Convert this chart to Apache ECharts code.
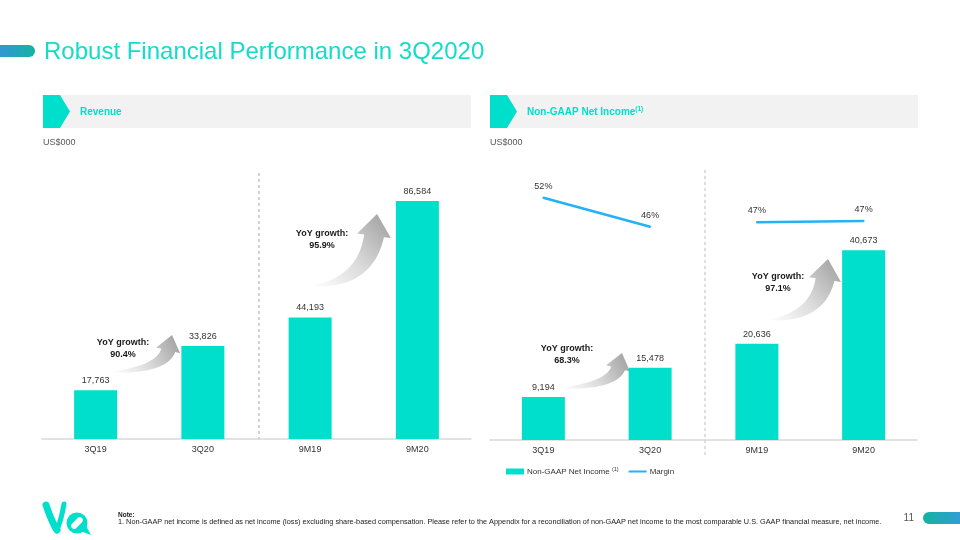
<!DOCTYPE html>
<html><head><meta charset="utf-8">
<script src="https://cdn.jsdelivr.net/npm/echarts@6/dist/echarts.min.js"></script>
<style>html,body{margin:0;padding:0;background:#fff}#c{width:960px;height:540px}</style>
</head><body><div id="c"></div>
<script>
// ---- data ----
const categories = ['3Q19', '3Q20', '9M19', '9M20'];
const revenue = [17763, 33826, 44193, 86584];
const netIncome = [9194, 15478, 20636, 40673];
const marginQuarter = [51.8, 45.8, '-', '-'];
const marginNineMonth = ['-', '-', 46.7, 47.0];
const revenueGrowth = ['90.4%', '95.9%'];
const incomeGrowth = ['68.3%', '97.1%'];

const TEAL = '#00dfcc';
const BLUE = '#22b2f5';
const FONT = 'Liberation Sans, Arial, sans-serif';

function quad(p0, c, p1, n) {
  const pts = [];
  for (let i = 0; i <= n; i++) {
    const t = i / n, u = 1 - t;
    pts.push([u * u * p0[0] + 2 * u * t * c[0] + t * t * p1[0], u * u * p0[1] + 2 * u * t * c[1] + t * t * p1[1]]);
  }
  return pts;
}
function arrowPoints(x0, y0, x1, y1, s) {
  const Lh = 22 * s, hw = 17 * s, bw = 10 * s;
  const C = [x0 + 0.85 * (x1 - x0), y0];
  let dx = x1 - C[0], dy = y1 - C[1];
  const len = Math.hypot(dx, dy); dx /= len; dy /= len;
  const B = [x1 - dx * Lh, y1 - dy * Lh];
  const n = [dy, -dx];
  const inner = [B[0] + n[0] * bw, B[1] + n[1] * bw];
  const outer = [B[0] - n[0] * bw, B[1] - n[1] * bw];
  const hIn = [B[0] + n[0] * hw, B[1] + n[1] * hw];
  const hOut = [B[0] - n[0] * hw, B[1] - n[1] * hw];
  const cin = [C[0] - bw * 0.9, C[1] - bw * 0.9];
  const cout = [C[0] + bw * 0.5, C[1] + bw * 0.3];
  const upper = quad([x0, y0 - 0.5], cin, inner, 24);
  const lower = quad(outer, cout, [x0, y0 + 0.5], 24);
  return upper.concat([hIn, [x1, y1], hOut], lower);
}
function arrow(x0, y0, x1, y1, s) {
  return {
    type: 'polygon', silent: true,
    shape: { points: arrowPoints(x0, y0, x1, y1, s) },
    style: {
      fill: new echarts.graphic.LinearGradient(0, 1, 1, 0, [
        { offset: 0, color: '#ffffff' }, { offset: 0.45, color: '#dcdcdc' }, { offset: 1, color: '#9c9c9c' }
      ])
    }
  };
}
function growthText(x, y, pct) {
  return {
    type: 'text', x: x, y: y, silent: true,
    style: { text: 'YoY growth:\n' + pct, fontSize: 9, fontWeight: 'bold', fontFamily: FONT, fill: '#1a1a1a',
      align: 'center', verticalAlign: 'middle', lineHeight: 12 }
  };
}
function header(x, label) {
  return [
    { type: 'rect', shape: { x: x, y: 95, width: 428, height: 33 }, style: { fill: '#f2f2f2' }, silent: true },
    { type: 'polygon', shape: { points: [[x, 95], [x + 17, 95], [x + 27, 111.5], [x + 17, 128], [x, 128]] }, style: { fill: TEAL }, silent: true },
    { type: 'text', x: x + 37, y: 112, silent: true,
      style: { text: label, fontFamily: FONT, verticalAlign: 'middle',
        rich: { a: { fontSize: 10, fontWeight: 'bold', fill: TEAL, fontFamily: FONT },
                s: { fontSize: 6.5, fontWeight: 'bold', fill: TEAL, fontFamily: FONT, padding: [0, 0, 6, 0] } } } },
    { type: 'text', x: x, y: 143, silent: true,
      style: { text: 'US$000', fontSize: 9, fontFamily: FONT, fill: '#595959', verticalAlign: 'middle' } }
  ];
}

const graphics = [
  // title bar decorations
  { type: 'rect', silent: true, shape: { x: -10, y: 45, width: 45, height: 12, r: 6 },
    style: { fill: new echarts.graphic.LinearGradient(0, 0, 1, 0, [{ offset: 0, color: '#3b8fe0' }, { offset: 1, color: '#13b3a2' }]) } },
  { type: 'text', x: 44, y: 52, silent: true,
    style: { text: 'Robust Financial Performance in 3Q2020', fontSize: 24, fontFamily: FONT, fill: '#14dcca', verticalAlign: 'middle' } },
  ...header(43, '{a|Revenue}'),
  ...header(490, '{a|Non-GAAP Net Income}{s|(1)}'),
  // dividers
  { type: 'line', silent: true, shape: { x1: 259, y1: 173, x2: 259, y2: 442 }, style: { stroke: '#a6a6a6', lineWidth: 1, lineDash: [3, 3] } },
  { type: 'line', silent: true, shape: { x1: 705, y1: 170, x2: 705, y2: 457 }, style: { stroke: '#c8c8c8', lineWidth: 1.2, lineDash: [3, 3] } },
  // growth arrows + texts
  arrow(112, 372, 172, 335, 0.72),
  arrow(312, 286, 377, 214, 1.0),
  arrow(562, 388, 622, 353, 0.72),
  arrow(769, 320, 828, 259, 0.95),
  growthText(123, 349, revenueGrowth[0]),
  growthText(322, 240, revenueGrowth[1]),
  growthText(567, 355, incomeGrowth[0]),
  growthText(778, 283, incomeGrowth[1]),
  // logo
  { type: 'polyline', silent: true, shape: { points: [[46, 505], [50, 516], [55, 527], [57, 530]], smooth: 0.4 },
    style: { stroke: TEAL, lineWidth: 7, lineCap: 'round', fill: null } },
  { type: 'polyline', silent: true, shape: { points: [[64, 504], [61, 518], [57, 530]], smooth: 0.4 },
    style: { stroke: TEAL, lineWidth: 5, lineCap: 'round', fill: null } },
  { type: 'circle', silent: true, shape: { cx: 77, cy: 523, r: 10.5 }, style: { fill: TEAL } },
  { type: 'polygon', silent: true, shape: { points: [[80, 531], [91, 535], [86, 526]] }, style: { fill: TEAL } },
  { type: 'rect', silent: true, x: 77, y: 523, rotation: Math.PI / 4, shape: { x: -7, y: -3, width: 14, height: 6, r: 3 }, style: { fill: '#ffffff' } },
  // note
  { type: 'text', x: 118, y: 515, silent: true, style: { text: 'Note:', fontSize: 6.5, fontWeight: 'bold', fontFamily: FONT, fill: '#1a1a1a', verticalAlign: 'middle' } },
  { type: 'text', x: 118, y: 522, silent: true, style: { text: '1. Non-GAAP net income is defined as net income (loss) excluding share-based compensation. Please refer to the Appendix for a reconciliation of non-GAAP net income to the most comparable U.S. GAAP financial measure, net income.', fontSize: 7.3, fontFamily: FONT, fill: '#1a1a1a', verticalAlign: 'middle' } },
  // page number + bar
  { type: 'text', x: 914, y: 518, silent: true, style: { text: '11', fontSize: 10, fontFamily: FONT, fill: '#555', align: 'right', verticalAlign: 'middle' } },
  { type: 'rect', silent: true, shape: { x: 923, y: 512, width: 50, height: 12, r: 6 },
    style: { fill: new echarts.graphic.LinearGradient(0, 0, 1, 0, [{ offset: 0, color: '#13b3a2' }, { offset: 1, color: '#3b97e3' }]) } }
];

const axisCommon = {
  type: 'category', data: categories,
  axisLine: { lineStyle: { color: '#d9d9d9', width: 1.5 } },
  axisTick: { show: false },
  axisLabel: { fontSize: 9, color: '#333', margin: 6, fontFamily: FONT }
};
const barLabel = { show: true, position: 'top', distance: 5, fontSize: 9, color: '#333', fontFamily: FONT,
  formatter: p => Number(p.value).toLocaleString('en-US') };
const lineLabel = { show: true, position: 'top', distance: 6, fontSize: 9, color: '#333', fontFamily: FONT,
  formatter: p => Math.round(p.value) + '%' };

const option = {
  animation: false,
  backgroundColor: '#ffffff',
  grid: [
    { left: 42, right: 489, top: 164, bottom: 101 },
    { left: 490, right: 43, top: 160, bottom: 100 }
  ],
  xAxis: [
    Object.assign({ gridIndex: 0 }, axisCommon),
    Object.assign({ gridIndex: 1 }, axisCommon)
  ],
  yAxis: [
    { gridIndex: 0, type: 'value', min: 0, max: 100000, show: false },
    { gridIndex: 1, type: 'value', min: 0, max: 60000, show: false },
    { gridIndex: 1, type: 'value', min: 1.66, max: 59.6, show: false }
  ],
  legend: {
    left: 506, top: 466, padding: 0, itemWidth: 18, itemHeight: 6, itemGap: 9,
    data: [{ name: 'Non-GAAP Net Income', icon: 'rect' }, { name: 'Margin', itemStyle: { opacity: 0 } }],
    formatter: name => name === 'Non-GAAP Net Income' ? '{a|Non-GAAP Net Income} {s|(1)}' : '{a|' + name + '}',
    textStyle: { fontSize: 8, color: '#333', fontFamily: FONT, padding: [0, 0, 0, -2],
      rich: { a: { fontSize: 8, color: '#333', fontFamily: FONT }, s: { fontSize: 5.5, color: '#333', fontFamily: FONT, padding: [0, 0, 5, 0] } } }
  },
  series: [
    { name: 'Revenue', type: 'bar', xAxisIndex: 0, yAxisIndex: 0, data: revenue, barWidth: 43,
      itemStyle: { color: TEAL }, label: barLabel },
    { name: 'Non-GAAP Net Income', type: 'bar', xAxisIndex: 1, yAxisIndex: 1, data: netIncome, barWidth: 43,
      itemStyle: { color: TEAL }, label: barLabel },
    { name: 'Margin', type: 'line', xAxisIndex: 1, yAxisIndex: 2, data: marginQuarter,
      symbol: 'circle', symbolSize: 2, showSymbol: true, itemStyle: { color: BLUE },
      lineStyle: { color: BLUE, width: 2.5 }, label: lineLabel },
    { name: 'Margin', type: 'line', xAxisIndex: 1, yAxisIndex: 2, data: marginNineMonth,
      symbol: 'circle', symbolSize: 2, showSymbol: true, itemStyle: { color: BLUE },
      lineStyle: { color: BLUE, width: 2.5 }, label: lineLabel }
  ],
  graphic: graphics
};

const chart = echarts.init(document.getElementById('c'), null, { renderer: 'canvas' });
chart.setOption(option);
</script>
</body></html>
